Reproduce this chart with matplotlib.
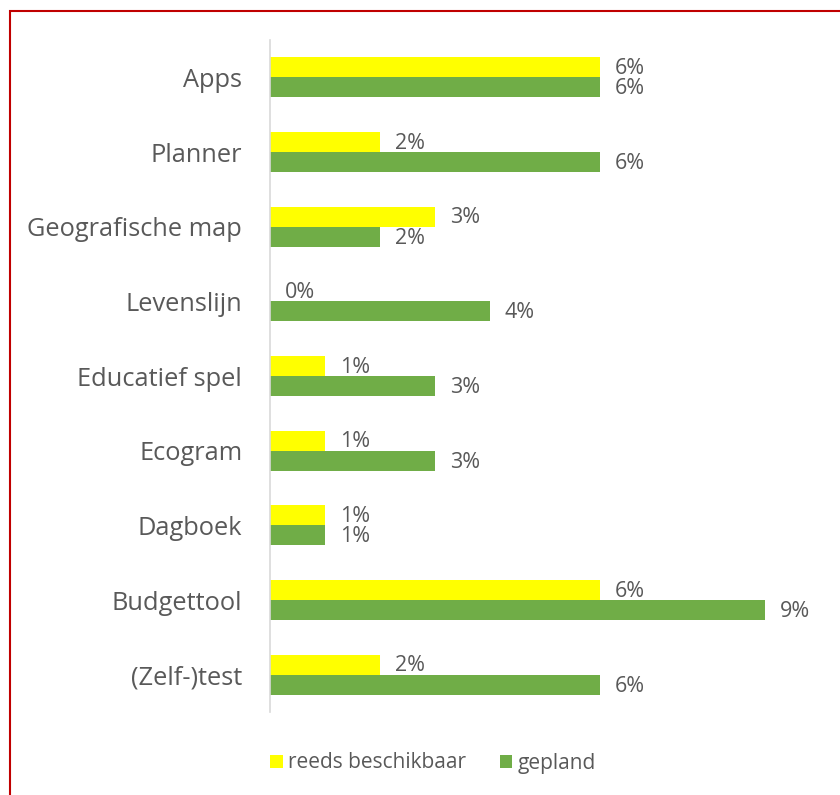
import matplotlib.pyplot as plt
import numpy as np
from matplotlib.patches import Rectangle

plt.rcParams['font.family'] = ['Open Sans', 'DejaVu Sans']

categorieen = ['Apps', 'Planner', 'Geografische map', 'Levenslijn', 'Educatief spel',
               'Ecogram', 'Dagboek', 'Budgettool', '(Zelf-)test']
reeds_beschikbaar = [6, 2, 3, 0, 1, 1, 1, 6, 2]
gepland = [6, 6, 2, 4, 3, 3, 1, 9, 6]

geel = '#FFFF00'
groen = '#70AD47'
tekst = '#595959'

fig = plt.figure(figsize=(8.4, 7.95), dpi=100)
ax = fig.add_axes([270 / 840, 83 / 795, 550 / 840, 672 / 795])

y = np.arange(len(categorieen))
h = 0.27
b1 = ax.barh(y - h / 2, reeds_beschikbaar, height=h, color=geel, label='reeds beschikbaar')
b2 = ax.barh(y + h / 2, gepland, height=h, color=groen, label='gepland')

for bars, vals in ((b1, reeds_beschikbaar), (b2, gepland)):
    for bar, v in zip(bars, vals):
        ax.annotate(f'{v}%', (bar.get_width(), bar.get_y() + bar.get_height() / 2),
                    xytext=(10.5, -1), textcoords='offset points', va='center', ha='left',
                    fontsize=15.5, color=tekst)

ax.set_xlim(0, 10)
ax.set_ylim(len(categorieen) - 0.5, -0.5)
ax.set_yticks(y)
ax.set_yticklabels(categorieen, fontsize=18.3, color=tekst)
ax.tick_params(axis='y', length=0, pad=20)
ax.set_xticks([])
for s in ['top', 'right', 'bottom']:
    ax.spines[s].set_visible(False)
ax.spines['left'].set_color('#D9D9D9')
ax.spines['left'].set_linewidth(1.2)

leg = fig.legend(loc='center', bbox_to_anchor=(433 / 840, 1 - 763 / 795), ncol=2,
                 frameon=False, fontsize=15, handlelength=0.6, handleheight=0.6,
                 handletextpad=0.25, columnspacing=1.6)
for t in leg.get_texts():
    t.set_color(tekst)

# rode rand rond de grafiek
fig.patches.append(Rectangle((10 / 840, -0.05), 1, 1 - 11 / 795 + 0.05,
                             transform=fig.transFigure, fill=False,
                             edgecolor='#C00000', linewidth=1.5))

fig.savefig('out.png', dpi=100)
